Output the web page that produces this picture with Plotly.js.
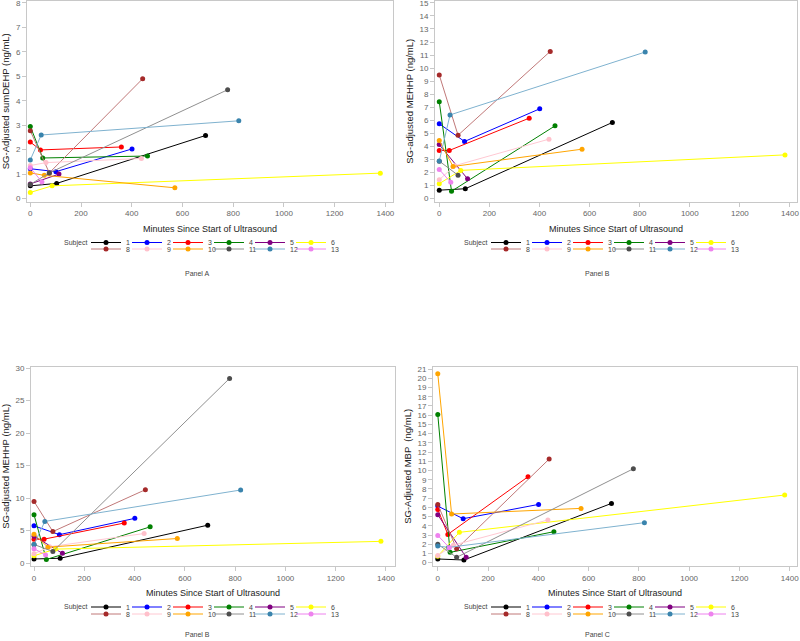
<!DOCTYPE html>
<html>
<head>
<meta charset="utf-8">
<script src="https://cdn.plot.ly/plotly-3.0.1.min.js"></script>
<style>html,body{margin:0;padding:0;background:#fff}</style>
</head>
<body>
<div id="chart" style="width:800px;height:641px"></div>
<script>
// subjects (7 is absent in the study)
var subjects = ['1', '2', '3', '4', '5', '6', '8', '9', '10', '11', '12', '13'];
var markerColors = ['#000000', '#0000ff', '#ff0000', '#008000', '#800080', '#ffff00',
                    '#a52a2a', '#ffc0cb', '#ffa500', '#4d4d4d', '#3a84ad', '#ee82ee'];
var lineColors = ['#000000', '#0000ff', '#ff0000', '#008000', '#800080', '#ffff00',
                  '#c07878', '#ffc8d2', '#ffa500', '#909090', '#7fb2cf', '#ee82ee'];

// sample times (minutes since start of ultrasound), one row per subject
var minutes = [
  [0, 104, 691], [0, 101, 401], [0, 40, 359], [0, 49, 462], [0, 113], [0, 86, 1380],
  [0, 75, 443], [0, 62, 438], [0, 55, 570], [0, 75, 778], [0, 43, 822], [0, 46]
];

var sumDEHP = [
  [0.52, 0.62, 2.58], [1.22, 1.10, 2.03], [2.31, 1.99, 2.11], [2.95, 1.66, 1.74], [0.60, 1.00], [0.25, 0.52, 1.04],
  [2.77, 1.05, 4.90], [1.35, 1.47, 1.64], [1.05, 0.95, 0.44], [0.58, 1.05, 4.45], [1.58, 2.60, 3.18], [1.26, 0.68]
];

var mehhp = [
  [0.62, 0.73, 5.82], [5.72, 4.36, 6.87], [3.67, 3.67, 6.15], [7.42, 0.54, 5.56], [4.12, 1.49], [1.12, 2.14, 3.33],
  [9.47, 4.84, 11.28], [1.42, 2.50, 4.54], [4.43, 2.44, 3.77], [2.85, 1.77, 28.4], [2.86, 6.40, 11.23], [2.21, 1.22]
];

var mbp = [
  [0.40, 0.29, 6.43], [6.14, 4.77, 6.32], [5.78, 3.07, 9.32], [16.08, 1.12, 3.36], [5.20, 0.58], [0.70, 3.29, 7.34],
  [6.32, 1.50, 11.24], [0.78, 1.90, 4.63], [20.5, 5.28, 5.89], [2.00, 0.58, 10.19], [1.81, 1.66, 4.34], [2.96, 1.63]
];

var W = 800, H = 641;
function px(x) { return x / W; }
function py(y) { return 1 - y / H; }

var panels = [
  {vals: sumDEHP, cap: null, ax: '',  ytitle: 'SG-Adjusted sumDEHP (ng/mL)', label: 'Panel A',
   box: [27, 393, 1, 201.5], xr: [-13, 1430], yr: [-0.12, 8.08], dtick: 1, leg: [86, 242.5, 249]},
  {vals: mehhp, cap: 15, ax: '2', ytitle: 'SG-adjusted MEHHP (ng/mL)', label: 'Panel B',
   box: [435, 797, 1, 201.5], xr: [-17, 1428], yr: [-0.25, 15.15], dtick: 1, leg: [486, 242.5, 249]},
  {vals: mehhp, cap: null, ax: '3', ytitle: 'SG-adjusted MEHHP (ng/mL)', label: 'Panel B',
   box: [31, 395, 366.7, 566], xr: [-12, 1436], yr: [-0.46, 30.2], dtick: 5, leg: [86, 607, 614]},
  {vals: mbp, cap: null, ax: '4', ytitle: 'SG-Adjusted MBP  (ng/mL)', label: 'Panel C',
   box: [433, 797, 366.7, 566], xr: [-19, 1429], yr: [-0.36, 21.26], dtick: 1, leg: [486, 607, 614]}
];

var font = 'Liberation Sans, Arial, sans-serif';
var entry = 41;   // px per legend entry
var data = [];
var layout = {
  width: W, height: H,
  margin: {l: 0, r: 0, t: 0, b: 0},
  paper_bgcolor: '#fff', plot_bgcolor: '#fff',
  font: {family: font},
  annotations: []
};

panels.forEach(function (p, k) {
  var xa = 'xaxis' + p.ax, ya = 'yaxis' + p.ax;
  var leg1 = 'legend' + (k === 0 ? '' : String(k * 2 + 1));
  var leg2 = 'legend' + String(k * 2 + 2);
  subjects.forEach(function (s, i) {
    var xs = [], ys = [];
    p.vals[i].forEach(function (v, j) {
      if (p.cap === null || v <= p.cap) { xs.push(minutes[i][j]); ys.push(v); }
    });
    var last = (i === 5 || i === 11);
    data.push({
      type: 'scatter', mode: 'lines+markers', name: s,
      x: xs, y: ys,
      xaxis: 'x' + p.ax, yaxis: 'y' + p.ax,
      legend: i < 6 ? leg1 : leg2,
      legendwidth: (last ? 54 : entry) / W,
      marker: {color: markerColors[i], size: 5},
      line: {color: lineColors[i], width: 1}
    });
  });

  var axBase = {
    showline: true, mirror: true, linecolor: '#c8c8c8', linewidth: 1,
    ticks: 'outside', ticklen: 4, tickcolor: '#c8c8c8',
    tickfont: {size: 8, color: '#666'}, ticklabeloverflow: 'allow',
    showgrid: false, zeroline: false
  };
  layout[xa] = Object.assign({}, axBase, {
    domain: [px(p.box[0]), px(p.box[1])], range: p.xr, anchor: 'y' + p.ax,
    tick0: 0, dtick: 200,
    title: {text: 'Minutes Since Start of Ultrasound', font: {size: 9, color: '#222'}, standoff: 8}
  });
  layout[ya] = Object.assign({}, axBase, {
    domain: [py(p.box[3]), py(p.box[2])], range: p.yr, anchor: 'x' + p.ax,
    tick0: 0, dtick: p.dtick,
    title: {text: p.ytitle, font: {size: 9.5, color: '#222'}, standoff: 4}
  });

  var legBase = {
    orientation: 'h', xanchor: 'left', yanchor: 'middle',
    entrywidthmode: 'fraction', entrywidth: entry / W,
    font: {size: 7, color: '#444'}, bgcolor: 'rgba(0,0,0,0)',
    traceorder: 'normal'
  };
  layout[leg1] = Object.assign({}, legBase, {x: px(p.leg[0]), y: py(p.leg[1])});
  layout[leg2] = Object.assign({}, legBase, {x: px(p.leg[0]), y: py(p.leg[2])});

  var cx = k % 2 === 0 ? 0 : 400;
  layout.annotations.push({
    text: 'Subject', xref: 'paper', yref: 'paper', showarrow: false,
    x: px(cx + 75.5), y: py(p.leg[1]), xanchor: 'center', yanchor: 'middle',
    font: {size: 7, color: '#444'}
  });
  layout.annotations.push({
    text: p.label, xref: 'paper', yref: 'paper', showarrow: false,
    x: px(cx + 197), y: py(k < 2 ? 273 : 634), xanchor: 'center', yanchor: 'middle',
    font: {size: 7, color: '#444'}
  });
});

Plotly.newPlot('chart', data, layout, {staticPlot: true});
</script>
</body>
</html>
